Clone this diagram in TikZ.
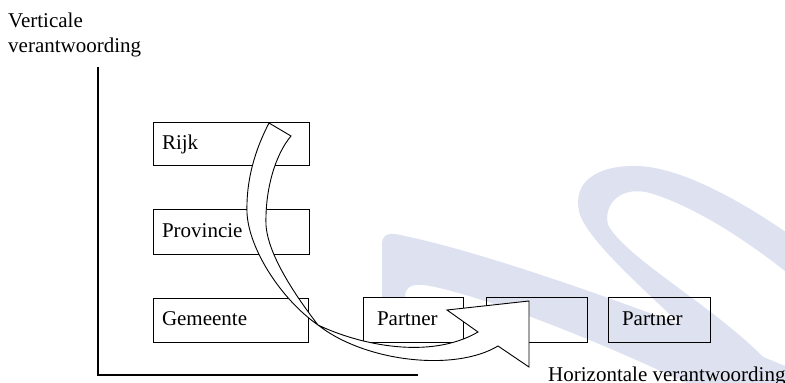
\documentclass[tikz,border=0pt]{standalone}
\usepackage{fontspec}
\setmainfont{Liberation Serif}
\newcommand\dgfont{\fontsize{21}{25}\selectfont}
\definecolor{wmark}{RGB}{222,226,240}
\begin{document}
\begin{tikzpicture}[x=1pt,y=-1pt,
  box/.style={draw, line width=0.8pt, rectangle, inner ysep=0pt, inner xsep=9pt,
    text width=138pt, minimum height=44pt, text height=14pt, text depth=3pt,
    align=left, font=\dgfont},
  pbox/.style={box, inner xsep=14pt, text width=72pt},
  lbl/.style={inner sep=0pt, anchor=base west, font=\dgfont},
  axis/.style={line width=1.1pt},
  ribbon/.style={draw, fill=white, line width=0.9pt, line join=miter},
  wm/.style={fill=wmark, draw=none}]
\useasboundingbox (0,0) rectangle (785,383);
% watermark
\begin{scope}
\clip (0,0) rectangle (785,383);
\fill[wm] (745,390) .. controls (700,335) and (595,255) .. (580,215)
  .. controls (570,180) and (600,165) .. (637,166)
  .. controls (680,167) and (740,200) .. (790,235) -- (790,275)
  .. controls (740,235) and (690,205) .. (650,193)
  .. controls (620,185) and (603,205) .. (608,225)
  .. controls (630,265) and (750,325) .. (790,390) -- cycle;
\fill[wm] (382,297) -- (382,245) .. controls (382,236) and (386,233) .. (395,234)
  .. controls (480,250) and (650,310) .. (790,368) -- (790,435)
  .. controls (650,360) and (500,300) .. (430,286)
  .. controls (415,283) and (405,285) .. (405,297) -- cycle;
\end{scope}
% labels
\node[lbl] (v1) at (8,27) {Verticale};
\node[lbl] (v2) at (8,52) {verantwoording};
\node[lbl] (hl) at (548,381) {Horizontale verantwoording};
% boxes
\node[box, minimum height=43pt] (rijk) at (231,143.5) {Rijk};
\node[box, minimum height=45pt] (prov) at (231,231.5) {Provincie};
\node[box, text width=137pt] (gem) at (230.5,320) {Gemeente};
\node[pbox, minimum height=45pt] (p1) at (413,319.5) {Partner};
\node[draw, line width=0.8pt, minimum width=101pt, minimum height=45pt, inner sep=0pt] (mid) at (536.5,319.5) {};
\node[pbox, minimum height=45pt, text width=74pt] (p3) at (659,319.5) {Partner};
% axes
\coordinate (otop) at (98,67);
\coordinate (orig) at (98,375);
\coordinate (oright) at (418,375);
\draw[axis] (otop) -- (orig) -- (oright);
% curved ribbon arrow
\coordinate (t1) at (269,123);
\coordinate (t2) at (291,136);
\coordinate (x) at (318,325);
\coordinate (n) at (478,332);
\coordinate (b1) at (447,310);
\coordinate (h1) at (529,301);
\coordinate (h2) at (529,367);
\coordinate (b2) at (498,346);
\draw[ribbon] (t1) .. controls (255,150) and (246,180) .. (247,213)
  .. controls (249,250) and (282,300) .. (x)
  .. controls (360,345) and (430,360) .. (n)
  -- (b1) -- (h1) -- (h2) -- (b2)
  .. controls (455,372) and (365,362) .. (x)
  .. controls (295,295) and (268,255) .. (266,225)
  .. controls (265,190) and (275,155) .. (t2) -- cycle;
\end{tikzpicture}
\end{document}
